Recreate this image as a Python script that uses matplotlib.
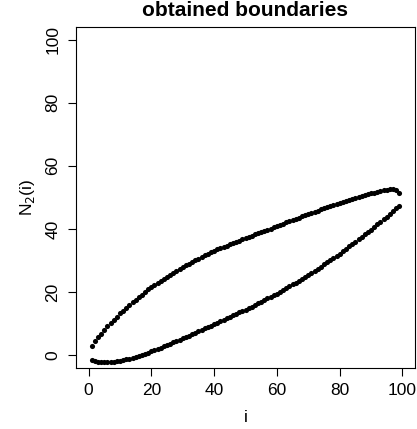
import numpy as np
import matplotlib
matplotlib.use("Agg")
import matplotlib.pyplot as plt

plt.rcParams['font.family'] = ['Liberation Sans', 'DejaVu Sans']

# index i
i_vals = list(range(1, 100))

# upper boundary N_2(i)
upper = [3.0, 4.4, 5.6, 6.8, 8.0, 9.1, 10.2, 11.2, 12.2, 13.2,
         14.1, 15.0, 15.9, 16.8, 17.6, 18.4, 19.2, 20.0, 20.8, 21.5,
         22.2, 22.9, 23.6, 24.2, 24.9, 25.5, 26.1, 26.7, 27.3, 27.9,
         28.5, 29.0, 29.6, 30.1, 30.6, 31.1, 31.6, 32.1, 32.6, 33.1,
         33.5, 33.9, 34.3, 34.7, 35.1, 35.5, 35.9, 36.3, 36.7, 37.1,
         37.5, 37.9, 38.3, 38.6, 39.0, 39.4, 39.8, 40.1, 40.5, 40.9,
         41.3, 41.7, 42.1, 42.4, 42.8, 43.2, 43.6, 44.0, 44.3, 44.7,
         45.1, 45.5, 45.8, 46.2, 46.5, 46.9, 47.2, 47.6, 47.9, 48.3,
         48.6, 48.9, 49.2, 49.6, 49.9, 50.2, 50.5, 50.7, 51.0, 51.3,
         51.5, 51.8, 52.0, 52.2, 52.4, 52.5, 52.5, 52.2, 51.5]

# lower boundary N_2(i)
lower = [-1.5, -1.9, -2.1, -2.25, -2.3, -2.3, -2.25, -2.15, -2.0, -1.85,
         -1.65, -1.4, -1.15, -0.9, -0.6, -0.3, 0.0, 0.35, 0.75, 1.15,
         1.6, 2.0, 2.4, 2.8, 3.25, 3.65, 4.05, 4.45, 4.9, 5.3,
         5.75, 6.2, 6.65, 7.1, 7.55, 8.0, 8.45, 8.9, 9.35, 9.8,
         10.25, 10.7, 11.15, 11.6, 12.1, 12.55, 13.0, 13.5, 13.95, 14.4,
         14.9, 15.4, 15.9, 16.4, 16.95, 17.45, 17.95, 18.45, 19.0, 19.5,
         20.05, 20.6, 21.2, 21.8, 22.4, 23.0, 23.6, 24.2, 24.8, 25.4,
         26.05, 26.7, 27.4, 28.05, 28.75, 29.45, 30.1, 30.8, 31.5, 32.2,
         32.95, 33.7, 34.45, 35.2, 35.95, 36.7, 37.5, 38.25, 39.0, 39.8,
         40.6, 41.4, 42.2, 43.05, 43.9, 44.75, 45.65, 46.5, 47.4]

x_ticks = [0, 20, 40, 60, 80, 100]
y_ticks = [0, 20, 40, 60, 80, 100]

W, H = 417, 429
fig = plt.figure(figsize=(W / 100, H / 100), dpi=100)
L, R, T, B = 76, 415, 27, 367.7
ax = fig.add_axes([L / W, (H - B) / H, (R - L) / W, (B - T) / H])

ax.plot(i_vals, upper, linestyle='none', marker='o', ms=3.7, color='black', mec='black', mew=0)
ax.plot(i_vals, lower, linestyle='none', marker='o', ms=3.7, color='black', mec='black', mew=0)

ax.set_xlim(-4, 104)
ax.set_ylim(-4, 104)
ax.set_xticks(x_ticks)
ax.set_yticks(y_ticks)
ax.set_xticklabels([str(v) for v in x_ticks])
ax.set_yticklabels([str(v) for v in y_ticks], rotation=90, va='center')
ax.tick_params(axis='both', direction='out', length=5.8, width=0.8, labelsize=12.5, pad=5.5)
for s in ax.spines.values():
    s.set_linewidth(0.8)

ax.set_xlabel('i', fontsize=12.5, labelpad=8)
ax.set_ylabel(r'N$_2$(i)', fontsize=12.5, labelpad=6)

fig.text(0.5 * (L + R) / W, 1 - 10 / H, 'obtained boundaries', ha='center', va='center',
         fontsize=15, fontweight='bold')

fig.savefig('out.png', dpi=100)
